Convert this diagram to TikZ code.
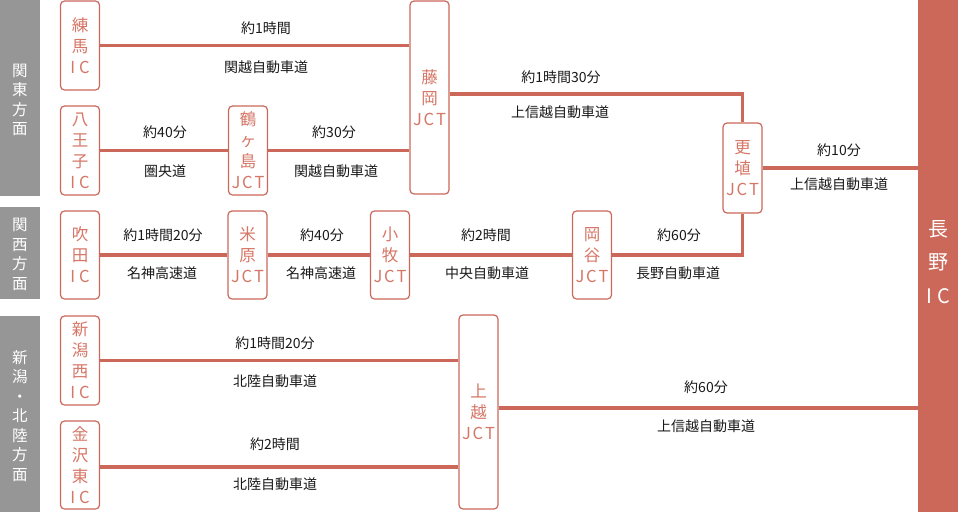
\documentclass[tikz,border=0pt]{standalone}
\usepackage{fontspec}
\setmainfont{Noto Sans CJK JP}
\definecolor{roadc}{RGB}{204,104,90}
\definecolor{nodetxt}{RGB}{214,118,102}
\definecolor{bandc}{RGB}{150,150,150}
\definecolor{labtxt}{RGB}{25,25,25}
\newcommand{\ICt}{I\hspace{4pt}C}
\newcommand{\JCTt}{J\hspace{1.8pt}C\hspace{1.8pt}T}
\tikzset{
  road/.style={draw=roadc, line width=3.5pt},
  ptbox/.style={draw=roadc, line width=1.2pt, rounded corners=4pt, fill=white,
    inner sep=0pt, minimum width=39pt, text=nodetxt, align=center,
    font=\fontsize{16.5}{21}\selectfont},
  bandlab/.style={text=white, align=center, inner sep=0pt, font=\fontsize{15.5}{19.5}\selectfont},
  lab/.style={text=labtxt, inner sep=0pt, font=\fontsize{14}{16}\selectfont},
}
\begin{document}
\begin{tikzpicture}[x=1pt,y=-1pt]
\path[use as bounding box] (0,0) rectangle (958,512);
% region bands
\fill[bandc] (0,0) rectangle (40,196);
\fill[bandc] (0,207) rectangle (40,299);
\fill[bandc] (0,316) rectangle (40,512);
\node[bandlab] (kanto) at (20,100) {関\\東\\方\\面};
\node[bandlab] (kansai) at (20,254.5) {関\\西\\方\\面};
\node[bandlab] (hokuriku) at (20,416) {新\\潟\\・\\北\\陸\\方\\面};
% Nagano IC
\fill[roadc] (918,0) rectangle (958,512);
\coordinate (naganoW) at (918,256);
\node[text=white, align=center, inner sep=0pt, font=\fontsize{20}{33.5}\selectfont] (nagano) at (938,262) {長\\野\\I\hspace{5pt}C};
% boxes
\node[ptbox, minimum height=89pt] (nerima) at (80,45.5) {練\\馬\\\ICt};
\node[ptbox, minimum height=89pt] (hachioji) at (80,150.5) {八\\王\\子\\\ICt};
\node[ptbox, minimum height=89pt] (tsuru) at (248,150.5) {鶴\\ヶ\\島\\\JCTt};
\node[ptbox, minimum height=193pt] (fujioka) at (429.5,97.5) {藤\\岡\\\JCTt};
\node[ptbox, minimum height=90pt] (koshoku) at (742.5,168) {更\\埴\\\JCTt};
\node[ptbox, minimum height=88pt] (suita) at (80,255) {吹\\田\\\ICt};
\node[ptbox, minimum height=88pt] (maibara) at (247.5,255) {米\\原\\\JCTt};
\node[ptbox, minimum height=88pt] (komaki) at (390,255) {小\\牧\\\JCTt};
\node[ptbox, minimum height=88pt] (okaya) at (592,255) {岡\\谷\\\JCTt};
\node[ptbox, minimum height=89pt] (niigata) at (80,360.5) {新\\潟\\西\\\ICt};
\node[ptbox, minimum height=88pt] (kanazawa) at (80,465) {金\\沢\\東\\\ICt};
\node[ptbox, minimum height=194pt] (joetsu) at (478.5,412) {上\\越\\\JCTt};
% roads
\draw[road] (nerima.east) -- (nerima.east -| fujioka.west);
\draw[road] (hachioji.east) -- (tsuru.west);
\draw[road] (tsuru.east) -- (tsuru.east -| fujioka.west);
\draw[road] ([yshift=3.5pt]fujioka.east) -| (koshoku.north);
\draw[road] (koshoku.east) -- (koshoku.east -| naganoW);
\draw[road] (suita.east) -- (maibara.west);
\draw[road] (maibara.east) -- (komaki.west);
\draw[road] (komaki.east) -- (okaya.west);
\draw[road] (okaya.east) -| (koshoku.south);
\draw[road] (niigata.east) -- (niigata.east -| joetsu.west);
\draw[road] ([yshift=-2pt]kanazawa.east) -- ([yshift=-2pt]kanazawa.east -| joetsu.west);
\draw[road] ([yshift=4pt]joetsu.east) -- ([yshift=4pt]joetsu.east -| naganoW);
% labels
\node[lab] (l1a) at (266,28) {約1時間};
\node[lab] (l1b) at (266,67) {関越自動車道};
\node[lab] (l2a) at (165,132) {約40分};
\node[lab] (l2b) at (165,171) {圏央道};
\node[lab] (l3a) at (334,132) {約30分};
\node[lab] (l3b) at (336,171) {関越自動車道};
\node[lab] (l4a) at (561,77) {約1時間30分};
\node[lab] (l4b) at (560,112) {上信越自動車道};
\node[lab] (l5a) at (839,150) {約10分};
\node[lab] (l5b) at (839,184) {上信越自動車道};
\node[lab] (l6a) at (163,235) {約1時間20分};
\node[lab] (l6b) at (162,273) {名神高速道};
\node[lab] (l7a) at (322,235) {約40分};
\node[lab] (l7b) at (321,273) {名神高速道};
\node[lab] (l8a) at (486,235) {約2時間};
\node[lab] (l8b) at (487,273) {中央自動車道};
\node[lab] (l9a) at (679,235) {約60分};
\node[lab] (l9b) at (678,273) {長野自動車道};
\node[lab] (l10a) at (275,343) {約1時間20分};
\node[lab] (l10b) at (275,381) {北陸自動車道};
\node[lab] (l11a) at (275,444) {約2時間};
\node[lab] (l11b) at (275,484) {北陸自動車道};
\node[lab] (l12a) at (706,387) {約60分};
\node[lab] (l12b) at (706,426) {上信越自動車道};
\end{tikzpicture}
\end{document}
